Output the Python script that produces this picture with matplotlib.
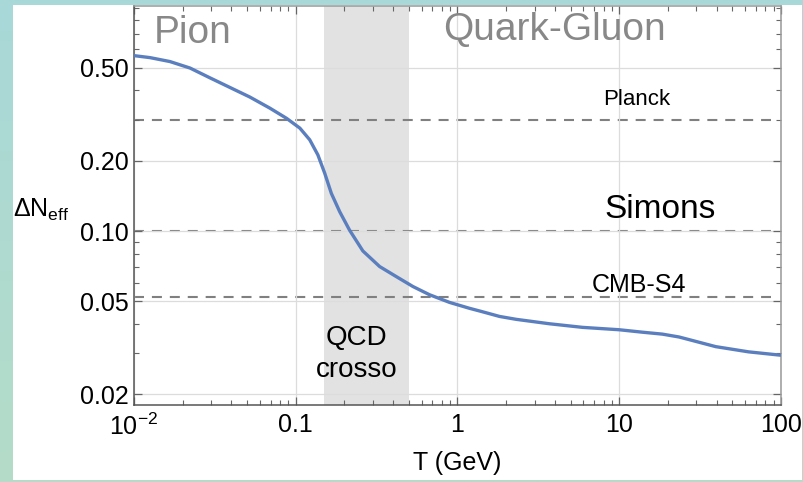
import numpy as np
import matplotlib
matplotlib.use("Agg")
import matplotlib.pyplot as plt
from matplotlib.patches import Rectangle
from matplotlib.ticker import FixedLocator, FixedFormatter, NullFormatter

plt.rcParams['font.family'] = ['Liberation Sans', 'DejaVu Sans']
plt.rcParams['mathtext.fontset'] = 'custom'
plt.rcParams['mathtext.rm'] = 'Liberation Sans'
plt.rcParams['mathtext.it'] = 'Liberation Sans'
plt.rcParams['mathtext.default'] = 'regular'

# Contribution to Delta N_eff versus decoupling temperature
temperature = [0.010, 0.01256, 0.01668, 0.0222, 0.0295, 0.0392, 0.0520,
               0.0692, 0.0877, 0.106, 0.122, 0.137, 0.151, 0.166, 0.187,
               0.215, 0.260, 0.330, 0.419, 0.530, 0.671, 0.893, 1.186,
               1.40, 1.82, 2.30, 3.70, 5.93, 10.0, 13.9, 18.5, 23.4, 27.0,
               39.5, 63.0, 100.0]
delta_neff = [0.564, 0.553, 0.532, 0.499, 0.453, 0.412, 0.375,
              0.336, 0.304, 0.276, 0.246, 0.212, 0.177, 0.145, 0.121,
              0.101, 0.0822, 0.0705, 0.0638, 0.0579, 0.0534, 0.0495, 0.0467,
              0.0453, 0.0431, 0.0419, 0.0401, 0.0387, 0.0378, 0.0369, 0.0362,
              0.0352, 0.0343, 0.0320, 0.0304, 0.0294]

# Experimental sensitivities
experiments = ["Planck", "Simons", "CMB-S4"]
sensitivities = [0.30, 0.10, 0.052]

# QCD crossover window (GeV)
qcd_window = [0.15, 0.5]

x_ticks = [0.01, 0.1, 1, 10, 100]
x_tick_labels = [r'$10^{-2}$', '0.1', '1', '10', '100']
y_ticks = [0.02, 0.05, 0.10, 0.20, 0.50]
y_tick_labels = ['0.02', '0.05', '0.10', '0.20', '0.50']

W, H = 804, 482
fig = plt.figure(figsize=(W / 100, H / 100), dpi=100)

# slide-style gradient backdrop with a white panel
bg = fig.add_axes([0, 0, 1, 1], zorder=-10)
top = np.array([168, 216, 216]) / 255
bottom = np.array([180, 220, 200]) / 255
t = np.linspace(0, 1, 256)[:, None, None]
grad = top * (1 - t) + bottom * t
grad = np.repeat(grad, 4, axis=1)
bg.imshow(grad, aspect='auto', extent=[0, 1, 0, 1], origin='upper')
bg.add_patch(Rectangle((13 / W, (H - 480) / H), (802 - 13) / W, (480 - 5) / H,
                       facecolor='white', edgecolor='none'))
bg.set_xlim(0, 1)
bg.set_ylim(0, 1)
bg.axis('off')

ax = fig.add_axes([134 / W, (H - 405) / H, (781 - 134) / W, (405 - 6) / H])
ax.set_facecolor('none')
ax.set_xscale('log')
ax.set_yscale('log')
ax.set_xlim(0.01, 100)
ax.set_ylim(0.018, 0.92)

ax.axvspan(qcd_window[0], qcd_window[1], color='#e2e2e2', zorder=0.5, lw=0)

ax.xaxis.set_major_locator(FixedLocator(x_ticks))
ax.xaxis.set_major_formatter(FixedFormatter(x_tick_labels))
ax.xaxis.set_minor_locator(FixedLocator(
    [m * 10.0 ** e for e in range(-2, 2) for m in range(2, 10)]))
ax.xaxis.set_minor_formatter(NullFormatter())
ax.yaxis.set_major_locator(FixedLocator(y_ticks))
ax.yaxis.set_major_formatter(FixedFormatter(y_tick_labels))
ax.yaxis.set_minor_locator(FixedLocator(
    [0.03, 0.04, 0.06, 0.07, 0.08, 0.09, 0.3, 0.4, 0.6, 0.7, 0.8, 0.9]))
ax.yaxis.set_minor_formatter(NullFormatter())

ax.grid(True, which='major', color='#dcdcdc', lw=0.9, zorder=0.6)
ax.tick_params(which='both', direction='in', top=True, right=True,
               color='#666666', labelsize=18, pad=4)
ax.tick_params(which='major', length=6, width=0.9)
ax.tick_params(which='minor', length=3.5, width=0.8)
ax.tick_params(axis='x', pad=6)
for side in ['left', 'bottom']:
    ax.spines[side].set_color('#555555')
    ax.spines[side].set_linewidth(1.1)
for side in ['top', 'right']:
    ax.spines[side].set_color('#999999')
    ax.spines[side].set_linewidth(1.1)

for level in sensitivities:
    ax.axhline(level, xmin=0, xmax=0.985, color='#808080', lw=1.5,
               dashes=(4.8, 3.8), zorder=1)

ax.plot(temperature, delta_neff, color='#5b7fbe', lw=2.4, zorder=3,
        solid_capstyle='butt', solid_joinstyle='round')

# labels for the experiments
ax.text(12.9, 0.347, experiments[0], fontsize=16, ha='center', va='baseline')
ax.text(17.9, 0.114, experiments[1], fontsize=24, ha='center', va='baseline')
ax.text(13.2, 0.0546, experiments[2], fontsize=18, ha='center', va='baseline')

# phase labels
ax.text(0.0231, 0.64, 'Pion', fontsize=28, color='#888888', ha='center',
        va='baseline')
ax.text(3.97, 0.659, 'Quark-Gluon', fontsize=28, color='#888888',
        ha='center', va='baseline')
ax.text(0.238, 0.0326, 'QCD', fontsize=20, ha='center', va='baseline')
ax.text(0.238, 0.0237, 'crosso', fontsize=20, ha='center', va='baseline')

ax.set_xlabel('T (GeV)', fontsize=18, labelpad=8)
fig.text(13 / W, (H - 217) / H, r'$\Delta N_{eff}$', fontsize=18,
         ha='left', va='baseline')

fig.savefig('out.png', dpi=100)
